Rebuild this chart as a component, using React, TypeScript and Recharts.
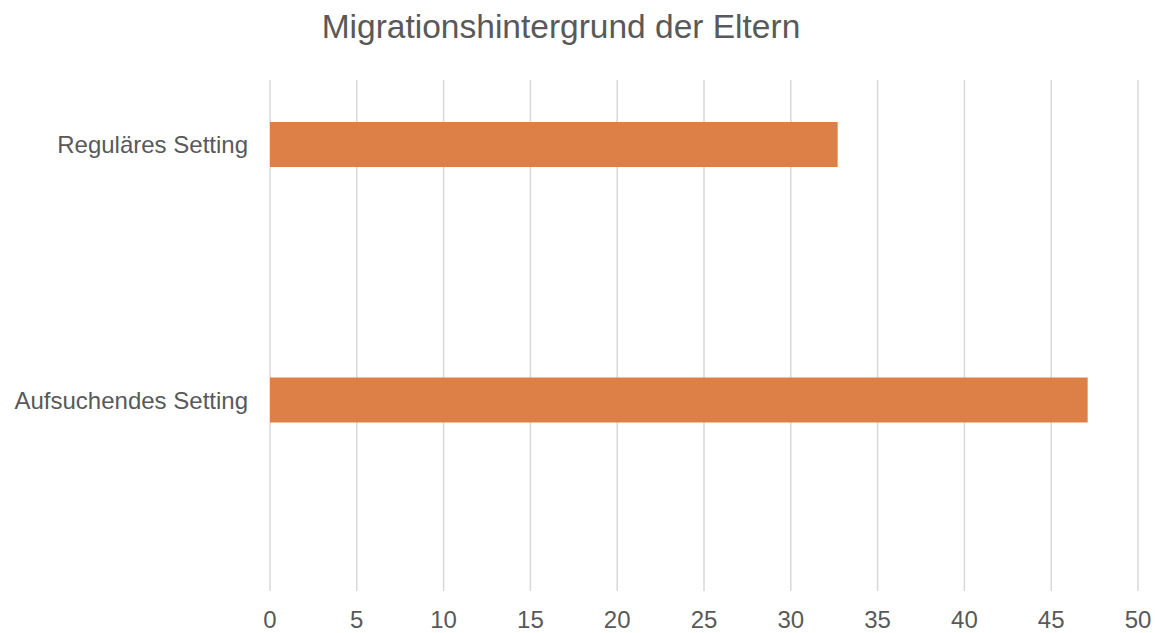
import { Bar, BarChart, CartesianGrid, XAxis, YAxis } from "recharts";

const categories = ["Reguläres Setting", "Aufsuchendes Setting"];
const values = [32.7, 47.1];
const xTicks = [0, 5, 10, 15, 20, 25, 30, 35, 40, 45, 50];

const chartTitle = "Migrationshintergrund der Eltern";

type Row = { name: string; value: number };

function App() {
    const data: Row[] = categories.map((name, i) => ({ name, value: values[i] }));

    const font = "'Liberation Sans', Arial, sans-serif";

    return (
        <div style={{ position: "absolute", left: 0, top: 0, width: 1155, height: 633, background: "#fff" }}>
            <div
                style={{
                    position: "absolute",
                    left: 0,
                    top: 10,
                    width: 1122,
                    textAlign: "center",
                    fontFamily: font,
                    fontSize: 33.5,
                    lineHeight: "34px",
                    color: "#595959",
                }}
            >
                {chartTitle}
            </div>
            <BarChart
                width={1155}
                height={633}
                layout="vertical"
                data={data}
                margin={{ top: 80, right: 17, bottom: 0, left: 0 }}
            >
                <CartesianGrid horizontal={false} stroke="#d9d9d9" strokeWidth={1.5} />
                <XAxis
                    type="number"
                    domain={[0, 50]}
                    ticks={xTicks}
                    interval={0}
                    height={42}
                    axisLine={false}
                    tickLine={false}
                    tickSize={0}
                    tickMargin={20}
                    tick={{ fill: "#595959", fontSize: 24, fontFamily: font }}
                />
                <YAxis
                    type="category"
                    dataKey="name"
                    width={270}
                    padding={{ top: -63, bottom: 63 }}
                    axisLine={false}
                    tickLine={false}
                    tickSize={0}
                    tickMargin={22}
                    tick={{ fill: "#595959", fontSize: 24, fontFamily: font }}
                />
                <Bar dataKey="value" fill="#dd8047" barSize={45} isAnimationActive={false} />
            </BarChart>
        </div>
    );
}

export default App;
